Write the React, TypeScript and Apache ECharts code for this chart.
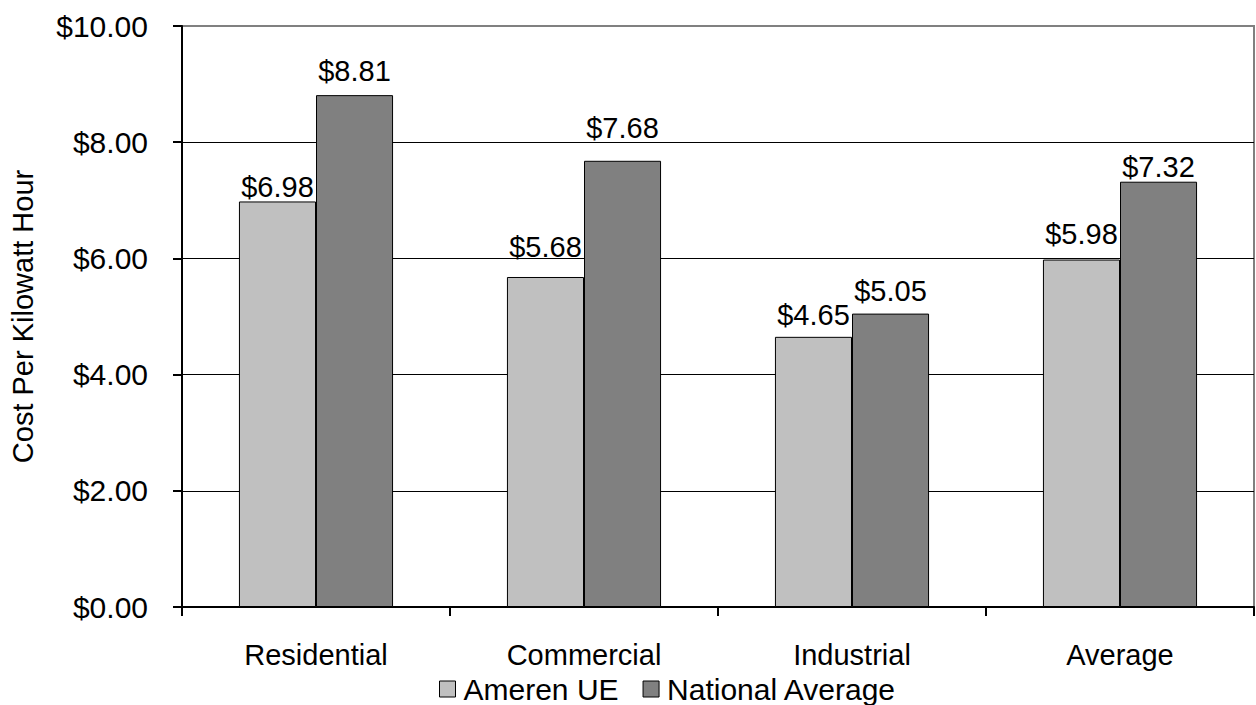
import React, { useEffect, useRef } from "react";
import * as echarts from "echarts";

const categories = ["Residential", "Commercial", "Industrial", "Average"];
const amerenUE = [6.98, 5.68, 4.65, 5.98];
const nationalAverage = [8.81, 7.68, 5.05, 7.32];
const seriesNames = ["Ameren UE", "National Average"];
const amerenLabelLift = [0, 15, 7, 11];
const nationalLabelLift = [10, 18, 8, 0];

const FONT = "'Liberation Sans', Arial, sans-serif";
const FS = 29;

export default function App() {
  const ref = useRef<HTMLDivElement>(null);
  useEffect(() => {
    document.body.style.margin = "0";
    const chart = echarts.init(ref.current!, null, { renderer: "svg" });
    const money = (v: number) => "$" + v.toFixed(2);
    const mk = (vals: number[], lifts: number[]) =>
      vals.map((v, i) => ({ value: v, label: { distance: lifts[i] } }));
    chart.setOption({
      animation: false,
      backgroundColor: "#ffffff",
      textStyle: { fontFamily: FONT },
      grid: {
        left: 181,
        right: 2,
        top: 26,
        bottom: 98,
        show: true,
        borderColor: "#808080",
        borderWidth: 2,
        backgroundColor: "transparent",
      },
      legend: {
        left: 434,
        top: 669,
        itemWidth: 16,
        itemHeight: 16,
        itemGap: 24,
        icon: "rect",
        textStyle: { fontSize: 30, fontFamily: FONT, color: "#000", padding: [0, 0, 0, 3] },
        data: seriesNames.map((n) => ({
          name: n,
          itemStyle: { borderColor: "#000", borderWidth: 1 },
        })),
      },
      xAxis: {
        type: "category",
        data: categories,
        axisLine: { lineStyle: { color: "#000", width: 2 } },
        axisTick: { show: true, length: 9, lineStyle: { color: "#000", width: 2 } },
        axisLabel: { fontSize: FS, fontFamily: FONT, color: "#000", margin: 33 },
      },
      yAxis: {
        type: "value",
        min: 0,
        max: 10,
        interval: 2,
        name: "Cost Per Kilowatt Hour",
        nameLocation: "middle",
        nameGap: 145,
        nameTextStyle: { fontSize: FS, fontFamily: FONT, color: "#000" },
        axisLine: { show: true, lineStyle: { color: "#000", width: 2 } },
        axisTick: { show: true, length: 9, lineStyle: { color: "#000", width: 2 } },
        axisLabel: {
          fontSize: 30,
          fontFamily: FONT,
          color: "#000",
          margin: 34,
          formatter: (v: number) => money(v),
        },
        splitLine: {
          show: true,
          lineStyle: {
            color: ["#000", "#000", "#000", "#000", "#000", "#808080"],
            width: 1,
          },
        },
      },
      series: [
        {
          name: seriesNames[0],
          type: "bar",
          data: mk(amerenUE, amerenLabelLift),
          barGap: "0%",
          barCategoryGap: "42.5%",
          itemStyle: { color: "#C0C0C0", borderColor: "#000", borderWidth: 1 },
          label: {
            show: true,
            position: "top",
            fontSize: FS,
            fontFamily: FONT,
            color: "#000",
            formatter: (p: any) => money(p.value),
          },
        },
        {
          name: seriesNames[1],
          type: "bar",
          data: mk(nationalAverage, nationalLabelLift),
          barGap: "0%",
          barCategoryGap: "42.5%",
          itemStyle: { color: "#808080", borderColor: "#000", borderWidth: 1 },
          label: {
            show: true,
            position: "top",
            fontSize: FS,
            fontFamily: FONT,
            color: "#000",
            formatter: (p: any) => money(p.value),
          },
        },
      ],
    });
    return () => chart.dispose();
  }, []);
  return (
    <div
      ref={ref}
      style={{ position: "absolute", left: 0, top: 0, width: 1256, height: 705 }}
    />
  );
}
